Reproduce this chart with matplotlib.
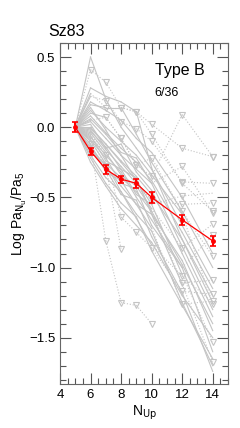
import numpy as np
import matplotlib
matplotlib.use('Agg')
from matplotlib import pyplot as plt
from matplotlib.ticker import MultipleLocator

plt.rcParams['font.family'] = ['Liberation Sans', 'DejaVu Sans']
plt.rcParams['mathtext.default'] = 'regular'

n_up = [5, 6, 7, 8, 9, 10, 12, 14]

# red: mean ratio curve for the object
mean_vals = [0.00, -0.17, -0.30, -0.37, -0.40, -0.50, -0.66, -0.81]
mean_errs = [0.035, 0.025, 0.03, 0.025, 0.03, 0.04, 0.035, 0.035]

nan = np.nan
# gray: individual sources (values at n_up, flag d=detection u=upper limit)
src_vals = [
    [0, 0.50, 0.20, 0.00, -0.15, -0.30, -0.70, -1.10],
    [0, 0.41, 0.32, 0.14, 0.11, 0.02, -0.15, -0.21],
    [0, 0.28, 0.22, 0.18, 0.11, -0.29, -0.80, -1.25],
    [0, 0.22, 0.19, 0.04, -0.01, -0.10, -0.39, -0.40],
    [0, 0.16, 0.14, 0.14, -0.05, -0.25, -0.60, -1.00],
    [0, 0.10, 0.07, -0.08, -0.27, -0.35, 0.09, -0.21],
    [0, 0.06, -0.05, -0.18, -0.22, -0.40, -0.85, -1.30],
    [0, 0.02, -0.15, -0.12, -0.32, -0.45, -0.90, -1.35],
    [0, -0.03, -0.14, -0.30, -0.36, -0.62, -0.95, -1.45],
    [0, -0.06, -0.24, -0.30, -0.48, -0.55, -1.05, -1.53],
    [0, -0.09, -0.22, -0.40, -0.44, -0.70, -1.00, -1.60],
    [0, -0.12, -0.32, -0.38, -0.55, -0.62, -1.12, -1.67],
    [0, -0.15, -0.30, -0.48, -0.52, -0.78, -1.18, -1.74],
    [0, -0.20, -0.36, -0.46, -0.62, -0.74, -1.25, -1.70],
    [0, -0.22, -0.40, -0.54, -0.64, -0.88, -1.27, -1.65],
    [0, -0.25, -0.42, -0.58, -0.70, -0.82, -1.20, -1.50],
    [0, -0.12, -0.81, -1.25, -1.27, -1.40, nan, nan],
    [0, -0.08, -0.28, -0.87, nan, nan, nan, nan],
    [0, -0.05, -0.20, -0.64, -0.75, -0.86, -1.17, -1.19],
    [0, 0.00, -0.12, -0.25, -0.38, -0.55, -0.49, -0.47],
    [0, -0.02, -0.16, -0.28, -0.40, -0.52, -0.55, -0.54],
    [0, 0.04, -0.08, -0.20, -0.30, -0.40, -0.28, -0.61],
    [0, -0.04, -0.18, -0.34, -0.42, -0.58, -0.86, -0.69],
    [0, -0.07, -0.20, -0.32, -0.50, -0.66, -1.00, -0.77],
    [0, -0.10, -0.26, -0.36, -0.46, -0.60, -1.11, -1.09],
    [0, -0.14, -0.28, -0.42, -0.55, -0.72, -1.26, -1.24],
    [0, 0.12, 0.00, -0.10, -0.20, -0.34, -0.62, -1.26],
    [0, 0.08, -0.04, -0.15, -0.25, -0.38, -0.75, -1.15],
    [0, -0.01, -0.12, -0.24, -0.35, -0.48, -0.80, -1.20],
    [0, 0.18, 0.12, 0.05, -0.08, -0.18, -0.50, -0.90],
    [0, 0.24, 0.14, 0.14, 0.11, -0.05, -0.40, -0.60],
    [0, 0.05, 0.07, -0.08, -0.27, -0.22, -0.60, -0.92],
    [0, -0.18, -0.26, -0.46, -0.65, -0.84, -1.06, -1.25],
    [0, 0.14, -0.02, -0.20, -0.38, -0.60, -0.98, -1.40],
]
src_flags = [
    "dddddddd", "duuuuuuu", "dddddddd", "dduuuuuu", "dddddddd",
    "ddduuuuu", "dddddddd", "dddddddd", "dddddddd", "dddddddu",
    "dddddddd", "dddddddu", "dddddddd", "dddddddd", "dddddddd",
    "dddddddd", "duuuuuuu", "dduuuuuu", "dduuuuuu", "ddddddud",
    "ddddduuu", "dddddduu", "dddddduu", "dddddddu", "dddddduu",
    "dddddduu", "dddddddu", "dddddddd", "dddddddd", "dddddddd",
    "dduuuuuu", "dduuuuuu", "ddddddud", "dddddddd",
]

gray = '#c4c4c4'

fig = plt.figure(figsize=(2.4, 4.28), dpi=100)
ax = fig.add_axes([0.25, 0.1028, 0.70, 0.7967])

for vals, flags in zip(src_vals, src_flags):
    for k in range(len(n_up) - 1):
        if np.isnan(vals[k]) or np.isnan(vals[k + 1]):
            continue
        ls = '-' if flags[k] == 'd' and flags[k + 1] == 'd' else ':'
        ax.plot(n_up[k:k + 2], vals[k:k + 2], color=gray, lw=0.8, ls=ls, zorder=1)
    ux = [n_up[k] for k in range(len(n_up)) if flags[k] == 'u' and not np.isnan(vals[k])]
    uy = [vals[k] for k in range(len(n_up)) if flags[k] == 'u' and not np.isnan(vals[k])]
    ax.plot(ux, uy, 'v', mfc='none', mec=gray, ms=5, mew=0.8, ls='none', zorder=2)

ax.errorbar(n_up, mean_vals, yerr=mean_errs, color='red', lw=0.9, marker='o', ms=2.5,
            capsize=2.5, elinewidth=1.5, capthick=1.2, zorder=5)

ax.set_xlim(4, 15)
ax.set_ylim(-1.83, 0.6)
ax.xaxis.set_major_locator(MultipleLocator(2))
ax.xaxis.set_minor_locator(MultipleLocator(0.5))
ax.yaxis.set_major_locator(MultipleLocator(0.5))
ax.yaxis.set_minor_locator(MultipleLocator(0.1))
ax.tick_params(which='both', direction='in', top=True, right=True, color='#555555',
               labelsize=9.5)
ax.tick_params(which='major', length=8, width=0.8)
ax.tick_params(which='minor', length=4, width=0.8)
for sp in ax.spines.values():
    sp.set_color('#666666')

ax.set_xlabel(r'N$_{\rm Up}$', fontsize=10, labelpad=2)
ax.set_ylabel(r'Log Pa$_{\rm N_u}$/Pa$_5$', fontsize=10, labelpad=0)

ax.text(10.2, 0.37, 'Type B', fontsize=11.5)
ax.text(10.2, 0.22, '6/36', fontsize=9)
fig.text(0.2, 0.915, 'Sz83', fontsize=11.5)

fig.savefig('out.png', dpi=100)
